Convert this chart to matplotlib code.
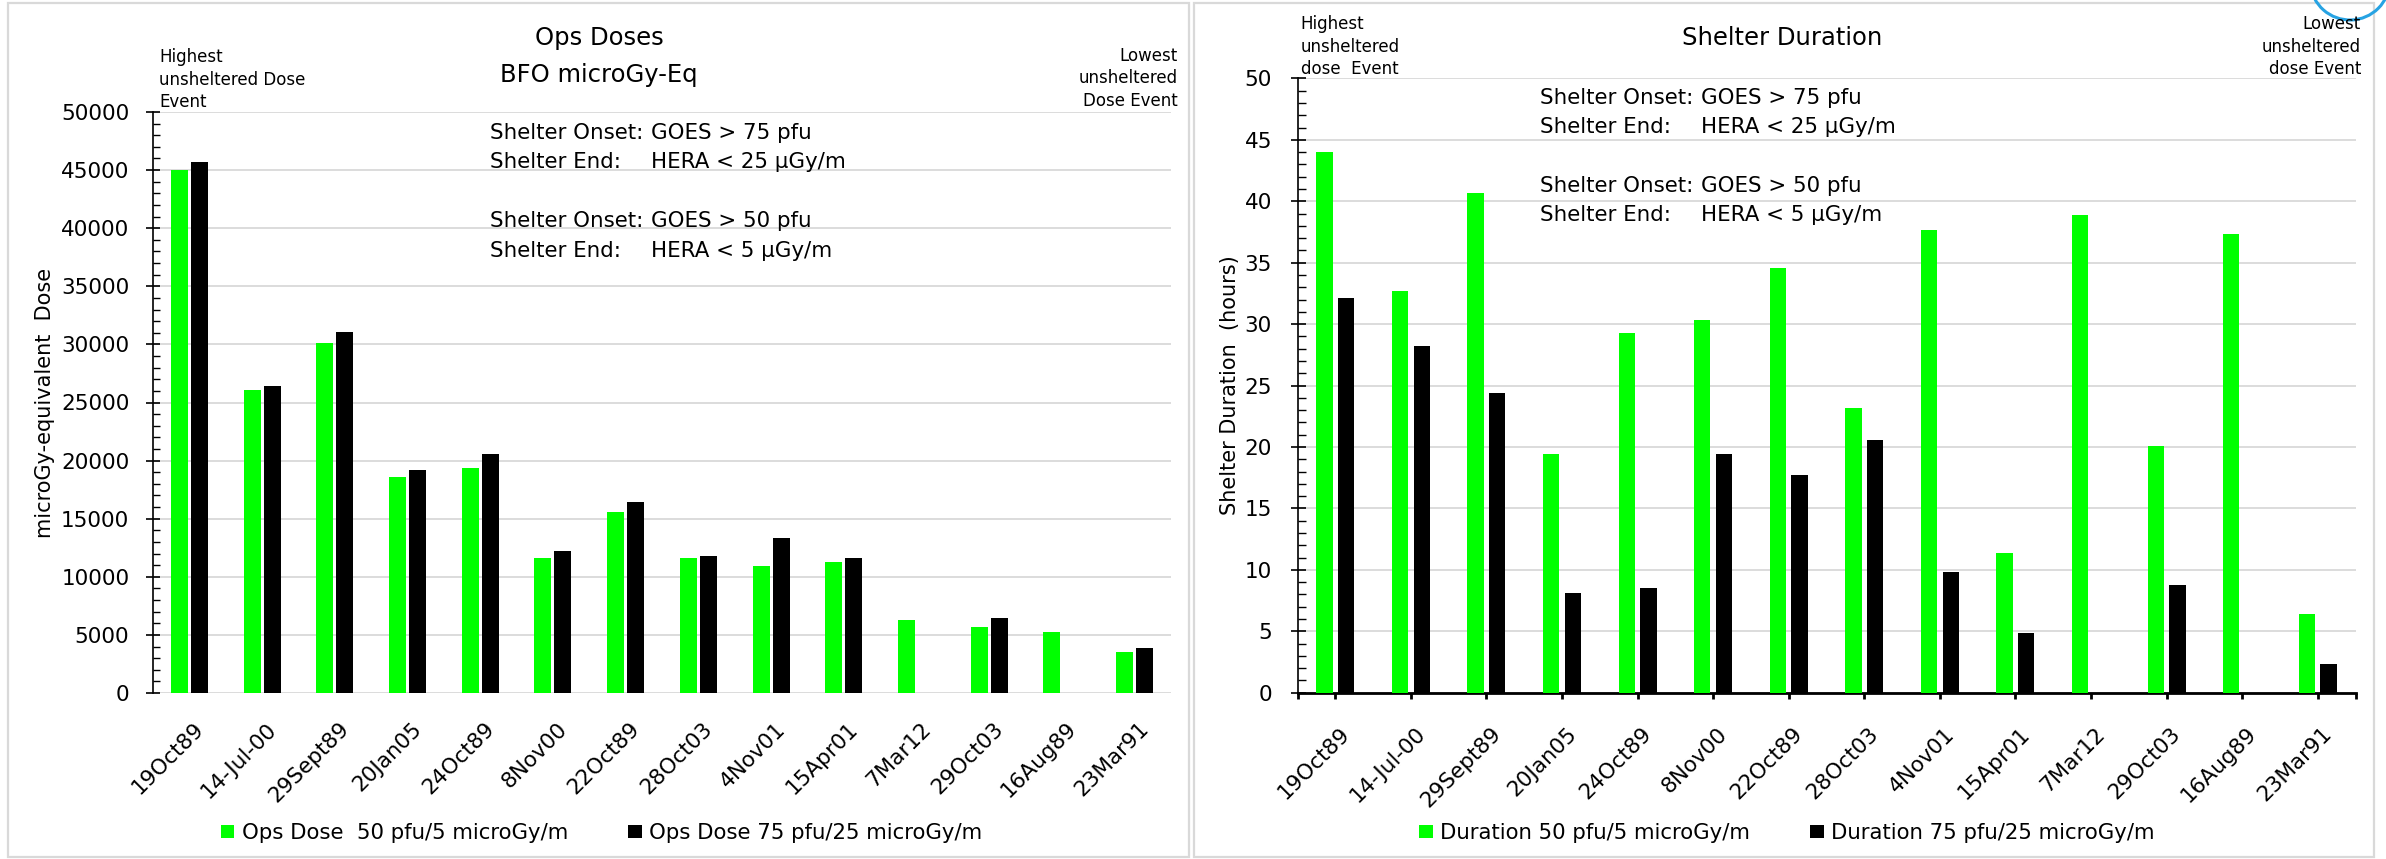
import numpy as np
import matplotlib
matplotlib.use("Agg")
import matplotlib.pyplot as plt
from matplotlib.patches import Rectangle, Arc
from matplotlib.ticker import MultipleLocator, FixedLocator
from matplotlib.transforms import ScaledTranslation

# ---- data -------------------------------------------------------------
events = ["19Oct89", "14-Jul-00", "29Sept89", "20Jan05", "24Oct89", "8Nov00",
          "22Oct89", "28Oct03", "4Nov01", "15Apr01", "7Mar12", "29Oct03",
          "16Aug89", "23Mar91"]

# ops dose, microGy-equivalent
dose_50pfu_5ugy = [45050, 26100, 30100, 18550, 19400, 11630, 15570, 11650,
                   10920, 11260, 6290, 5690, 5230, 3570]
dose_75pfu_25ugy = [45700, 26450, 31100, 19200, 20540, 12180, 16430, 11830,
                    13350, 11650, np.nan, 6430, np.nan, 3910]

# shelter duration, hours
dur_50pfu_5ugy = [44.0, 32.7, 40.7, 19.4, 29.3, 30.3, 34.6, 23.2, 37.7, 11.4,
                  38.9, 20.1, 37.3, 6.4]
dur_75pfu_25ugy = [32.1, 28.2, 24.4, 8.1, 8.5, 19.4, 17.7, 20.6, 9.8, 4.85,
                   np.nan, 8.8, np.nan, 2.35]

dose_labels = ["Ops Dose  50 pfu/5 microGy/m", "Ops Dose 75 pfu/25 microGy/m"]
dur_labels = ["Duration 50 pfu/5 microGy/m", "Duration 75 pfu/25 microGy/m"]

# ---- layout helpers (pixel -> figure fraction) -------------------------
W, H = 2386, 859
DPI = 100
GREEN = "#00ff00"
GRID = "#d9d9d9"
TICK_FS = 15.5
LEG_FS = 15.3

def fx(px):
    return px / W

def fy(py):
    return 1 - py / H

fig = plt.figure(figsize=(W / DPI, H / DPI), dpi=DPI)
fig.patch.set_facecolor("white")

def add_axes_px(x0, x1, y_top, y_bot):
    return fig.add_axes([fx(x0), fy(y_bot), (x1 - x0) / W, (y_bot - y_top) / H])

def ftext(x, y, s, size, ha="left", **kw):
    fig.text(fx(x), fy(y), s, fontsize=size, ha=ha, va="baseline", **kw)

x = np.arange(len(events))

# panel frames
fig.patches.append(Rectangle((fx(8), fy(857)), (1189 - 8) / W, (857 - 3) / H,
                             transform=fig.transFigure, fill=False,
                             ec=GRID, lw=1.6, zorder=0))
fig.patches.append(Rectangle((fx(1194), fy(857)), (2374 - 1194) / W, (857 - 3) / H,
                             transform=fig.transFigure, fill=False,
                             ec=GRID, lw=1.6, zorder=0))
# corner logo fragment
fig.patches.append(Arc((fx(2350), fy(-20)), 2 * 40 / W, 2 * 40 / H,
                       theta1=195, theta2=355, transform=fig.transFigure,
                       color="#27a3e3", lw=2.2))

def style_xlabels(ax):
    labels = ax.set_xticklabels(events, fontsize=TICK_FS)
    shift = ScaledTranslation(4 / DPI, 0, fig.dpi_scale_trans)
    for lab in labels:
        lab.set_rotation(45)
        lab.set_ha("right")
        lab.set_va("top")
        lab.set_rotation_mode("anchor")
        lab.set_transform(lab.get_transform() + shift)

def shelter_block(x0, baselines):
    rows = [("Shelter Onset:", "GOES > 75 pfu"),
            ("Shelter End:", "HERA < 25 \u03bcGy/m"),
            ("Shelter Onset:", "GOES > 50 pfu"),
            ("Shelter End:", "HERA < 5 \u03bcGy/m")]
    for yb, (a, b) in zip(baselines, rows):
        ftext(x0, yb, a, 15.4)
        ftext(x0 + 161, yb, b, 15.4)

# ---- left panel: ops doses --------------------------------------------
axL = add_axes_px(153, 1171, 112, 693)
bw = 0.234
off = 0.1375
axL.bar(x - off, dose_50pfu_5ugy, width=bw, color=GREEN, zorder=3, label=dose_labels[0])
axL.bar(x + off, dose_75pfu_25ugy, width=bw, color="black", zorder=3, label=dose_labels[1])
axL.set_xlim(-0.5, len(events) - 0.5)
axL.set_ylim(0, 50000)
axL.yaxis.set_major_locator(MultipleLocator(5000))
axL.yaxis.set_minor_locator(MultipleLocator(1000))
axL.grid(axis="y", which="major", color=GRID, lw=1.3, zorder=0)
axL.set_axisbelow(True)
for s in ("top", "right", "bottom"):
    axL.spines[s].set_visible(False)
axL.spines["left"].set_linewidth(1.2)
axL.tick_params(axis="y", which="major", direction="inout", length=10, width=1.2,
                pad=12, labelsize=TICK_FS)
axL.tick_params(axis="y", which="minor", direction="in", length=5, width=1.0)
axL.xaxis.set_major_locator(FixedLocator(x))
axL.tick_params(axis="x", which="major", length=0, pad=18.5)
style_xlabels(axL)

fig.text(fx(45), fy(402.5), "microGy-equivalent  Dose", rotation=90,
         ha="center", va="center", fontsize=15)

ftext(599, 45, "Ops Doses", 17.5, ha="center")
ftext(599, 81.7, "BFO microGy-Eq", 17.5, ha="center")
for yb, s in zip((61.7, 85, 107), ("Highest", "unsheltered Dose", "Event")):
    ftext(159, yb, s, 12)
for yb, s in zip((60.7, 83, 105.7), ("Lowest", "unsheltered", "Dose Event")):
    ftext(1178, yb, s, 12, ha="right")

shelter_block(490, (139, 168.5, 227, 257))

hL, lL = axL.get_legend_handles_labels()
fig.legend(hL, lL, loc="center", bbox_to_anchor=(fx(601.5), fy(833)), ncol=2,
           frameon=False, fontsize=LEG_FS, handlelength=0.62, handleheight=0.62,
           handletextpad=0.35, columnspacing=2.85)

# ---- right panel: shelter duration ------------------------------------
axR = add_axes_px(1297.5, 2355.5, 78.4, 692.7)
bw2 = 0.215
off2 = 0.143
axR.bar(x - off2, dur_50pfu_5ugy, width=bw2, color=GREEN, zorder=3, label=dur_labels[0])
axR.bar(x + off2, dur_75pfu_25ugy, width=bw2, color="black", zorder=3, label=dur_labels[1])
axR.set_xlim(-0.5, len(events) - 0.5)
axR.set_ylim(0, 50)
axR.yaxis.set_major_locator(MultipleLocator(5))
axR.yaxis.set_minor_locator(MultipleLocator(1))
axR.grid(axis="y", which="major", color=GRID, lw=1.3, zorder=0)
axR.set_axisbelow(True)
for s in ("top", "right"):
    axR.spines[s].set_visible(False)
axR.spines["left"].set_linewidth(1.2)
axR.spines["bottom"].set_linewidth(2.0)
axR.tick_params(axis="y", which="major", direction="inout", length=10.8, width=1.2,
                pad=13, labelsize=TICK_FS)
axR.tick_params(axis="y", which="minor", direction="in", length=5.4, width=1.0)
axR.xaxis.set_major_locator(FixedLocator(x))
axR.xaxis.set_minor_locator(FixedLocator([-0.5, len(events) - 0.5]))
axR.tick_params(axis="x", which="both", direction="out", length=4.3, width=2.0,
                pad=18)
style_xlabels(axR)

fig.text(fx(1230), fy(385.5), "Shelter Duration  (hours)", rotation=90,
         ha="center", va="center", fontsize=15)

ftext(1782, 45, "Shelter Duration", 17.5, ha="center")
for yb, s in zip((29.3, 52.3, 74), ("Highest", "unsheltered", "dose  Event")):
    ftext(1300.6, yb, s, 12)
for yb, s in zip((29, 52, 74), ("Lowest", "unsheltered", "dose Event")):
    ftext(2361, yb, s, 12, ha="right")

shelter_block(1540, (104, 133, 192, 221))

hR, lR = axR.get_legend_handles_labels()
fig.legend(hR, lR, loc="center", bbox_to_anchor=(fx(1787), fy(833)), ncol=2,
           frameon=False, fontsize=LEG_FS, handlelength=0.62, handleheight=0.62,
           handletextpad=0.35, columnspacing=2.85)

fig.savefig("out.png", dpi=DPI)
